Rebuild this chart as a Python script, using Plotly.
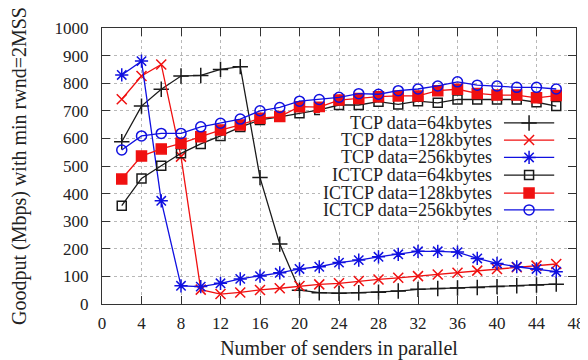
import plotly.graph_objects as go

senders = [2, 4, 6, 8, 10, 12, 14, 16, 18, 20, 22, 24, 26, 28, 30, 32, 34, 36, 38, 40, 42, 44, 46]

tcp_64 = [588, 717, 778, 826, 828, 850, 860, 458, 217, 50, 41, 39, 41, 43, 47, 53, 56, 58, 60, 63, 66, 69, 72]
tcp_128 = [742, 826, 868, 534, 52, 36, 42, 51, 57, 65, 71, 75, 83, 89, 95, 101, 107, 113, 121, 127, 133, 139, 145]
tcp_256 = [830, 880, 374, 66, 63, 75, 91, 101, 113, 127, 135, 150, 159, 171, 180, 191, 191, 188, 165, 147, 135, 127, 117]
ictcp_64 = [356, 455, 501, 546, 580, 609, 641, 667, 678, 691, 703, 721, 721, 733, 723, 735, 729, 741, 741, 741, 741, 731, 717]
ictcp_128 = [453, 536, 562, 582, 606, 630, 649, 673, 679, 715, 713, 739, 745, 751, 754, 754, 773, 778, 763, 757, 757, 747, 755]
ictcp_256 = [558, 609, 618, 618, 642, 655, 670, 700, 712, 735, 741, 749, 762, 760, 773, 779, 790, 805, 793, 790, 785, 785, 779]

x_ticks = list(range(0, 49, 4))
y_ticks = list(range(0, 1001, 100))

labels = ["TCP data=64kbytes", "TCP data=128kbytes", "TCP data=256kbytes",
          "ICTCP data=64kbytes", "ICTCP data=128kbytes", "ICTCP data=256kbytes"]
series = [tcp_64, tcp_128, tcp_256, ictcp_64, ictcp_128, ictcp_256]

BLACK = "#1a1a1a"
RED = "#f01010"
BLUE = "#1010e0"
colors = [BLACK, RED, BLUE, BLACK, RED, BLUE]
symbols = ["cross-thin-open", "x-thin-open", "asterisk-open", "square-open", "square", "circle-open"]
sizes = [11, 10, 11, 9, 10, 10]

FONT = "Liberation Serif"

fig = go.Figure()

for lab, ys, c, s, sz in zip(labels, series, colors, symbols, sizes):
    fig.add_trace(go.Scatter(
        x=senders, y=ys, mode="lines+markers", name=lab,
        line=dict(color=c, width=1.3),
        marker=dict(symbol=s, size=sz, color=c, line=dict(color=c, width=1.5)),
        showlegend=False,
    ))

# opaque legend box hiding gridlines (overlay subplot, drawn above main grid)
fig.add_trace(go.Scatter(
    x=[0.46, 0.985, 0.985, 0.46, 0.46], y=[0.305, 0.305, 0.695, 0.695, 0.305],
    mode="lines", fill="toself", fillcolor="white", line=dict(width=0, color="white"),
    xaxis="x2", yaxis="y2", showlegend=False, hoverinfo="skip"))

# legend samples on an overlay axis (fractions of plot area)
leg_rows = [0.656, 0.594, 0.531, 0.467, 0.402, 0.341]
leg_x0, leg_x1, leg_xm = 0.848, 0.954, 0.901
for lab, c, s, sz, ry in zip(labels, colors, symbols, sizes, leg_rows):
    fig.add_trace(go.Scatter(
        x=[leg_x0, leg_x1], y=[ry, ry], mode="lines", xaxis="x2", yaxis="y2",
        line=dict(color=c, width=1.3), showlegend=False, hoverinfo="skip"))
    fig.add_trace(go.Scatter(
        x=[leg_xm], y=[ry], mode="markers", xaxis="x2", yaxis="y2",
        marker=dict(symbol=s, size=sz, color=c, line=dict(color=c, width=1.5)),
        showlegend=False, hoverinfo="skip"))
    fig.add_annotation(
        x=0.826, y=ry, xref="x2", yref="y2", text=lab, showarrow=False,
        xanchor="right", yanchor="middle",
        font=dict(family=FONT, size=18, color="#222"))

axis_common = dict(
    showline=True, linecolor="#333", linewidth=1.3, mirror="allticks",
    ticks="inside", ticklen=8, tickcolor="#333", tickwidth=1.2,
    showgrid=True, gridcolor="#b8b8b8", griddash="dot", gridwidth=1,
    zeroline=False, automargin=False,
    tickfont=dict(family=FONT, size=17, color="#222"),
)

# page body has an 8px margin: figure is 580x352 and sits at (8, 8)
fig.update_layout(
    width=580, height=352,
    margin=dict(l=94, r=12, t=20, b=56),
    paper_bgcolor="white", plot_bgcolor="white",
    font=dict(family=FONT, color="#222"),
    xaxis=dict(range=[0, 48], tickvals=x_ticks, ticklabelstandoff=3, **axis_common,
               title=dict(text="Number of senders in parallel",
                          font=dict(family=FONT, size=20, color="#222"), standoff=10)),
    yaxis=dict(range=[0, 1000], tickvals=y_ticks, ticklabelstandoff=9, **axis_common,
               title=dict(text="Goodput (Mbps) with min rwnd=2MSS",
                          font=dict(family=FONT, size=20, color="#222"), standoff=24)),
    xaxis2=dict(range=[0, 1], overlaying="x", visible=False, fixedrange=True),
    yaxis2=dict(range=[0, 1], overlaying="y", visible=False, fixedrange=True),
)

fig.write_html("out.html")
